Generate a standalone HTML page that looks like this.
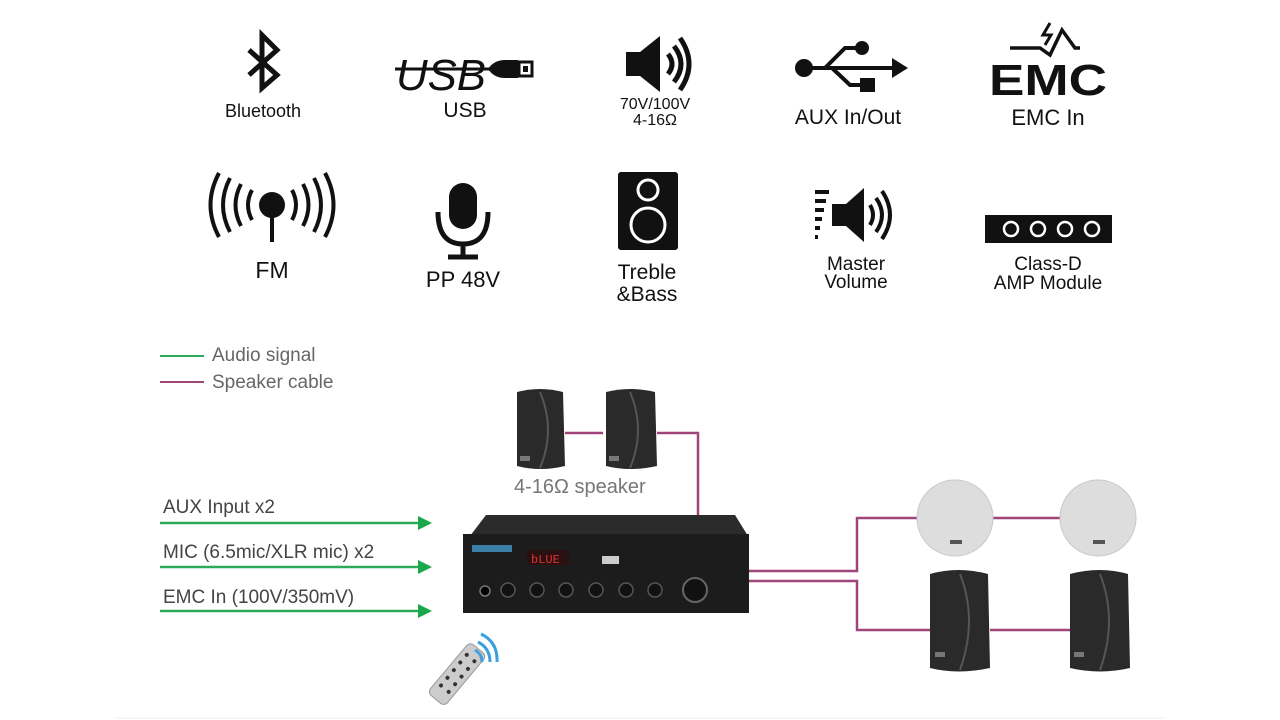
<!DOCTYPE html>
<html><head><meta charset="utf-8"><style>
body{margin:0;width:1280px;height:720px;background:#fff;overflow:hidden;font-family:"Liberation Sans",sans-serif}
.t{position:absolute;transform:translateX(-50%);text-align:center;color:#111;white-space:nowrap;line-height:1}
.l{position:absolute;color:#666;font-size:19px;white-space:nowrap;line-height:1}
</style></head><body>
<svg width="1280" height="720" style="position:absolute;left:0;top:0">
<!-- Bluetooth -->
<path d="M249 50 L277 75 L262 88 L262 35 L277 50 L249 75" fill="none" stroke="#111" stroke-width="5" stroke-linejoin="miter"/>
<!-- USB -->
<text x="396" y="90" font-family="Liberation Sans" font-style="italic" font-size="44" fill="#111" textLength="90" lengthAdjust="spacingAndGlyphs">USB</text>
<line x1="395" y1="69" x2="492" y2="69" stroke="#111" stroke-width="3"/>
<path d="M488 69 Q494 60 505 60 L518 60 L518 78 L505 78 Q494 78 488 69 Z" fill="#111"/>
<rect x="519" y="62" width="13" height="14" fill="#fff" stroke="#111" stroke-width="3"/>
<rect x="523" y="66" width="5" height="6" fill="#111"/>
<!-- speaker icon -->
<path d="M626 52 L640 52 L660 36 L660 92 L640 76 L626 76 Z" fill="#111"/>
<path d="M668 54 Q676 64 668 74 M674 46 Q688 64 674 82 M680 38 Q698 64 680 90" fill="none" stroke="#111" stroke-width="5"/>
<!-- AUX -->
<circle cx="804" cy="68" r="9" fill="#111"/>
<path d="M812 68 L895 68 M825 68 L845 48 L858 48 M832 68 L850 85 L862 85" fill="none" stroke="#111" stroke-width="4"/>
<circle cx="862" cy="48" r="7" fill="#111"/><rect x="860" y="78" width="15" height="14" fill="#111"/>
<path d="M892 58 L908 68 L892 78 Z" fill="#111"/>
<!-- EMC -->
<text x="989" y="95" font-family="Liberation Sans" font-weight="bold" font-size="44" fill="#111" textLength="118" lengthAdjust="spacingAndGlyphs">EMC</text>
<path d="M1010 48 L1040 48 L1050 55 L1062 30 L1075 48 L1080 48" fill="none" stroke="#111" stroke-width="3.5"/>
<path d="M1050 23 L1043 35 L1051 35 L1045 45" fill="none" stroke="#111" stroke-width="3"/>
<!-- FM -->
<circle cx="272" cy="205" r="13" fill="#111"/><rect x="270" y="210" width="4" height="32" fill="#111"/>
<g fill="none" stroke="#111" stroke-width="4">
<path d="M252 190 Q244 205 252 220 M292 190 Q300 205 292 220"/>
<path d="M241 184 Q230 205 241 226 M303 184 Q314 205 303 226"/>
<path d="M230 178 Q216 205 230 232 M314 178 Q328 205 314 232"/>
<path d="M219 173 Q202 205 219 237 M325 173 Q342 205 325 237"/></g>
<!-- mic -->
<rect x="449" y="183" width="28" height="46" rx="14" fill="#111"/>
<path d="M438 212 Q438 244 463 244 Q488 244 488 212 M463 244 L463 256 M448 257 L478 257" fill="none" stroke="#111" stroke-width="5"/>
<!-- speaker box -->
<rect x="618" y="172" width="60" height="78" rx="3" fill="#111"/>
<circle cx="648" cy="190" r="10" fill="none" stroke="#fff" stroke-width="3"/>
<circle cx="648" cy="225" r="17" fill="none" stroke="#fff" stroke-width="3"/>
<!-- master volume -->
<g fill="#111"><rect x="815" y="190" width="14" height="4"/><rect x="815" y="199" width="11" height="4"/><rect x="815" y="208" width="9" height="4"/><rect x="815" y="217" width="7" height="4"/><rect x="815" y="226" width="5" height="4"/><rect x="815" y="235" width="3" height="4"/></g>
<path d="M832 204 L846 204 L864 188 L864 242 L846 226 L832 226 Z" fill="#111"/>
<path d="M870 205 Q876 215 870 225 M876 198 Q888 215 876 232 M882 191 Q898 215 882 239" fill="none" stroke="#111" stroke-width="4"/>
<!-- class D -->
<rect x="985" y="215" width="127" height="28" fill="#111"/>
<g fill="none" stroke="#fff" stroke-width="2.5"><circle cx="1011" cy="229" r="7"/><circle cx="1038" cy="229" r="7"/><circle cx="1065" cy="229" r="7"/><circle cx="1092" cy="229" r="7"/></g>
<!-- legend -->
<line x1="160" y1="356" x2="204" y2="356" stroke="#2bab5a" stroke-width="2"/>
<line x1="160" y1="382" x2="204" y2="382" stroke="#a0457a" stroke-width="2"/>
<!-- green arrows -->
<g stroke="#2bab5a" stroke-width="2.5"><line x1="160" y1="523" x2="420" y2="523"/><line x1="160" y1="567" x2="420" y2="567"/><line x1="160" y1="611" x2="420" y2="611"/></g>
<g fill="#1aa84a"><path d="M418 516 L432 523 L418 530Z"/><path d="M418 560 L432 567 L418 574Z"/><path d="M418 604 L432 611 L418 618Z"/></g>
<!-- magenta wires -->
<g fill="none" stroke="#a0457a" stroke-width="2.5">
<path d="M565 433 L603 433 M657 433 L698 433 L698 516"/>
<path d="M748 571 L857 571 L857 518 L918 518 M993 518 L1060 518"/>
<path d="M748 581 L857 581 L857 630 L930 630 M990 630 L1070 630"/>
</g>
<!-- top speakers -->
<g><path d="M517 392 Q540 386 563 392 L565 466 Q540 472 517 466 Z" fill="#2a2a2a"/><path d="M540 392 Q556 430 540 468" stroke="#555" fill="none" stroke-width="2"/><rect x="520" y="456" width="10" height="5" fill="#777"/></g>
<g><path d="M606 392 Q630 386 655 392 L657 466 Q630 472 606 466 Z" fill="#2a2a2a"/><path d="M630 392 Q646 430 630 468" stroke="#555" fill="none" stroke-width="2"/><rect x="609" y="456" width="10" height="5" fill="#777"/></g>
<!-- amplifier -->
<path d="M470 536 L486 515 L735 515 L748 536 Z" fill="#2b2b2b"/>
<rect x="463" y="534" width="286" height="79" fill="#1c1c1c"/>
<rect x="472" y="545" width="40" height="7" fill="#3a7fa8"/>
<rect x="527" y="550" width="42" height="15" fill="#2a1010"/>
<text x="531" y="563" font-size="12" font-family="Liberation Mono" fill="#e03030">bLUE</text>
<rect x="602" y="556" width="17" height="8" fill="#ccc"/>
<g fill="#111" stroke="#555" stroke-width="1.5"><circle cx="508" cy="590" r="7"/><circle cx="537" cy="590" r="7"/><circle cx="566" cy="590" r="7"/><circle cx="596" cy="590" r="7"/><circle cx="626" cy="590" r="7"/><circle cx="655" cy="590" r="7"/></g>
<circle cx="485" cy="591" r="5" fill="#000" stroke="#777" stroke-width="1.5"/>
<circle cx="695" cy="590" r="12" fill="#111" stroke="#666" stroke-width="2"/>
<!-- ceiling speakers -->
<circle cx="955" cy="518" r="38" fill="#ddd" stroke="#c8c8c8"/><rect x="950" y="540" width="12" height="4" fill="#555"/>
<circle cx="1098" cy="518" r="38" fill="#ddd" stroke="#c8c8c8"/><rect x="1093" y="540" width="12" height="4" fill="#555"/>
<!-- bottom right speakers -->
<g><path d="M930 574 Q958 566 988 574 L990 668 Q958 675 930 668 Z" fill="#2a2a2a"/><path d="M960 574 Q978 620 960 670" stroke="#555" fill="none" stroke-width="2"/><rect x="935" y="652" width="10" height="5" fill="#777"/></g>
<g><path d="M1070 574 Q1100 566 1128 574 L1130 668 Q1100 675 1070 668 Z" fill="#2a2a2a"/><path d="M1100 574 Q1118 620 1100 670" stroke="#555" fill="none" stroke-width="2"/><rect x="1074" y="652" width="10" height="5" fill="#777"/></g>
<!-- remote -->
<g transform="rotate(40 455 675)"><rect x="445" y="640" width="22" height="66" rx="5" fill="#ccc" stroke="#999"/><g fill="#333"><circle cx="451" cy="652" r="2"/><circle cx="461" cy="652" r="2"/><circle cx="451" cy="662" r="2"/><circle cx="461" cy="662" r="2"/><circle cx="451" cy="672" r="2"/><circle cx="461" cy="672" r="2"/><circle cx="451" cy="682" r="2"/><circle cx="461" cy="682" r="2"/><circle cx="451" cy="692" r="2"/><circle cx="461" cy="692" r="2"/></g></g>
<g fill="none" stroke="#3aa0e0" stroke-width="3"><path d="M475 650 Q482 654 482 662"/><path d="M478 642 Q490 648 490 662"/><path d="M481 634 Q498 642 497 662"/></g>
<line x1="115" y1="718" x2="1165" y2="718" stroke="#eee"/>
</svg>
<div class="t" style="left:263px;top:102px;font-size:18px">Bluetooth</div>
<div class="t" style="left:465px;top:100px;font-size:21px">USB</div>
<div class="t" style="left:655px;top:97px;font-size:16px;line-height:16px">70V/100V<br>4-16Ω</div>
<div class="t" style="left:848px;top:107px;font-size:21px">AUX In/Out</div>
<div class="t" style="left:1048px;top:107px;font-size:22px">EMC In</div>
<div class="t" style="left:272px;top:259px;font-size:23px">FM</div>
<div class="t" style="left:463px;top:269px;font-size:22px">PP 48V</div>
<div class="t" style="left:647px;top:262px;font-size:21px;line-height:22px">Treble<br>&amp;Bass</div>
<div class="t" style="left:856px;top:256px;font-size:19px;line-height:18px">Master<br>Volume</div>
<div class="t" style="left:1048px;top:255px;font-size:19px;line-height:19px">Class-D<br>AMP Module</div>
<div class="l" style="left:212px;top:346px">Audio signal</div>
<div class="l" style="left:212px;top:373px">Speaker cable</div>
<div class="l" style="left:163px;top:498px;color:#444">AUX Input x2</div>
<div class="l" style="left:163px;top:543px;color:#444">MIC (6.5mic/XLR mic) x2</div>
<div class="l" style="left:163px;top:588px;color:#444">EMC In (100V/350mV)</div>
<div class="l" style="left:514px;top:477px;font-size:20px;color:#777">4-16Ω speaker</div>
</body></html>
